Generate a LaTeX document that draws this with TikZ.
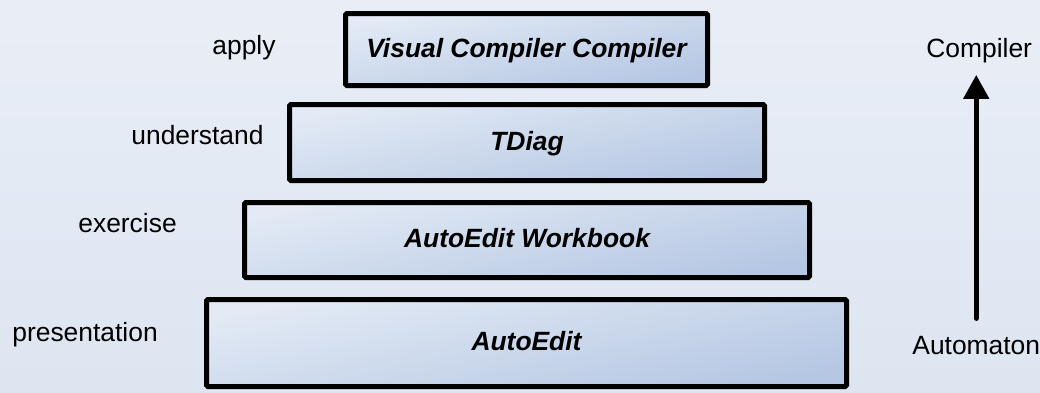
\documentclass[tikz,border=0pt]{standalone}
\usepackage{fontspec}
\setmainfont{Liberation Sans}
\usetikzlibrary{arrows.meta}
\newlength{\du}
\setlength{\du}{0.5pt}

\begin{document}
\begin{tikzpicture}
\pgftransformxscale{1.000000}
\pgftransformyscale{-1.000000}
\definecolor{bgtopcolor}{rgb}{0.914, 0.933, 0.965}
\definecolor{bgbotcolor}{rgb}{0.867, 0.898, 0.945}
\definecolor{boxlightcolor}{rgb}{0.890, 0.918, 0.961}
\definecolor{boxdarkcolor}{rgb}{0.710, 0.780, 0.890}
\tikzset{
  layer/.style={draw=black, line width=2.5pt, rounded corners=0.75pt,
    top color=boxlightcolor, bottom color=boxdarkcolor, shading angle=12,
    font=\fontsize{13.2}{15}\selectfont\bfseries\itshape,
    text height=7.5pt, text depth=0pt, inner sep=0pt},
  levellabel/.style={anchor=base west, inner sep=0pt, font=\fontsize{13.2}{15}\selectfont},
  uparrow/.style={-{Triangle[width=12.5pt,length=12pt]}, line width=2.5pt, line cap=round,
    shorten <=8.5pt, shorten >=6pt}
}
% background
\shade[top color=bgtopcolor, bottom color=bgbotcolor] (0\du,0\du) rectangle (1040\du,392\du);
\useasboundingbox (0\du,0\du) rectangle (1040\du,392\du);
% layers
\node[layer, minimum width=181pt, minimum height=36pt] (vcc) at (526.5\du,49.5\du) {Visual Compiler Compiler};
\node[layer, minimum width=237.5pt, minimum height=38pt] (tdiag) at (527\du,142.5\du) {TDiag};
\node[layer, minimum width=282.5pt, minimum height=37.5pt] (workbook) at (527\du,240\du) {AutoEdit Workbook};
\node[layer, minimum width=320pt, minimum height=43.5pt] (autoedit) at (526.5\du,343\du) {AutoEdit};
% level labels
\node[levellabel] (apply) at (212\du,54\du) {apply};
\node[levellabel] (understand) at (131\du,144\du) {understand};
\node[levellabel] (exercise) at (78\du,232\du) {exercise};
\node[levellabel] (presentation) at (12\du,341\du) {presentation};
% axis
\node[levellabel] (compiler) at (926\du,57\du) {Compiler};
\node[levellabel] (automaton) at (912\du,354\du) {Automaton};
\draw[uparrow] (automaton.north) -- (automaton.north |- compiler.south);
\end{tikzpicture}
\end{document}
